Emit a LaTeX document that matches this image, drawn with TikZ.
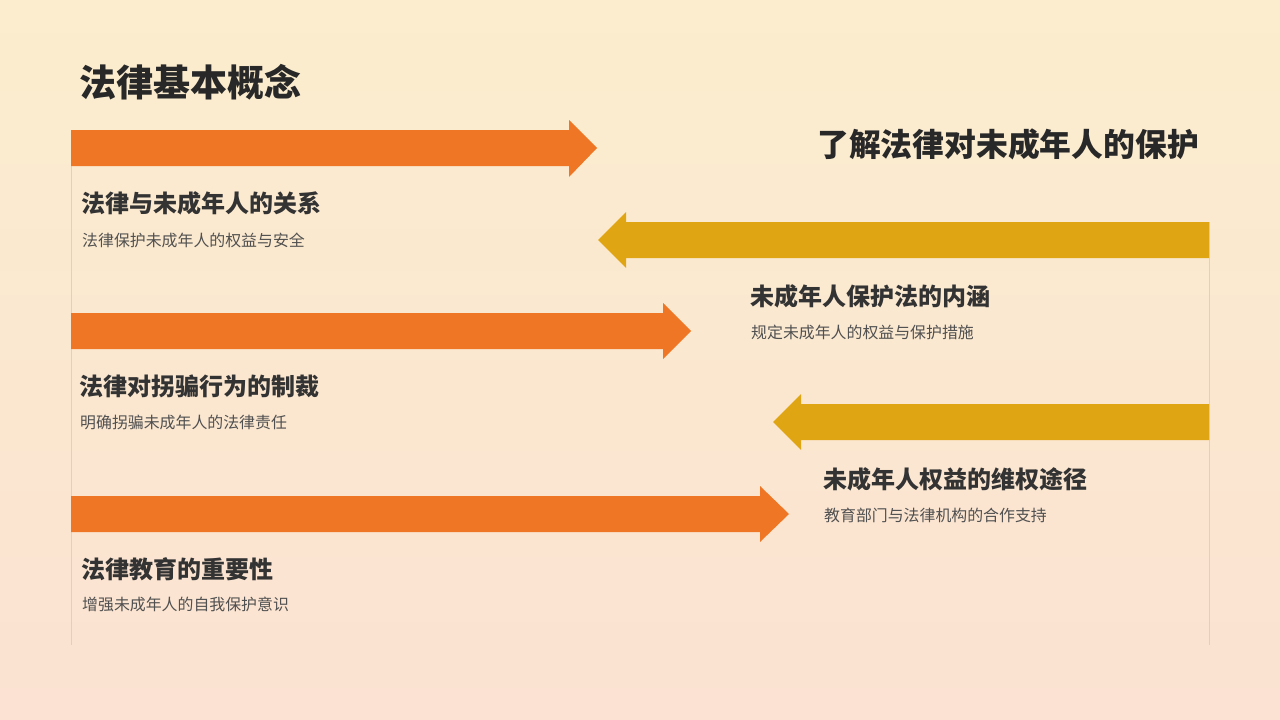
\documentclass[tikz,border=0pt]{standalone}
\usepackage{fontspec}
\setmainfont{Noto Sans CJK SC}
\begin{document}
\begin{tikzpicture}[x=1pt,y=-1pt,
  orangearrow/.style={fill={rgb,255:red,238;green,118;blue,36}},
  goldarrow/.style={fill={rgb,255:red,224;green,165;blue,18}},
  vline/.style={draw={rgb,255:red,222;green,208;blue,195},line width=1pt},
  head/.style={anchor=west,inner sep=0pt,font=\fontsize{24}{28}\selectfont\bfseries,text={rgb,255:red,51;green,51;blue,51}},
  sub/.style={anchor=west,inner sep=0pt,font=\fontsize{15.9}{18}\selectfont,text={rgb,255:red,80;green,80;blue,80}}]
\useasboundingbox (0,0) rectangle (1280,720);
\shade[top color={rgb,255:red,251;green,237;blue,206},bottom color={rgb,255:red,251;green,226;blue,210}] (0,0) rectangle (1280,720);
% vertical lines
\coordinate (lt) at (71,130); \coordinate (lb) at (71,645);
\coordinate (rt) at (1209,222); \coordinate (rb) at (1209,645);
\draw[vline] (lt) -- (lb);
\draw[vline] (rt) -- (rb);
% orange arrows
\path[orangearrow] (71,130) -- (569,130) -- (569,120) -- (597,148) -- (569,177) -- (569,166) -- (71,166) -- cycle;
\path[orangearrow] (71,313) -- (663,313) -- (663,303) -- (691,331) -- (663,359) -- (663,349) -- (71,349) -- cycle;
\path[orangearrow] (71,496) -- (760,496) -- (760,486) -- (789,514) -- (760,542) -- (760,532) -- (71,532) -- cycle;
% gold arrows
\path[goldarrow] (1209,222) -- (626,222) -- (626,212) -- (598,240) -- (626,268) -- (626,258) -- (1209,258) -- cycle;
\path[goldarrow] (1209,404) -- (801,404) -- (801,394) -- (773,422) -- (801,450) -- (801,440) -- (1209,440) -- cycle;
% titles
\node[anchor=west,inner sep=0pt,font=\fontsize{37}{42}\selectfont\bfseries,text={rgb,255:red,40;green,40;blue,40}] (title) at (79,82) {法律基本概念};
\node[anchor=east,inner sep=0pt,font=\fontsize{31.8}{36}\selectfont\bfseries,text={rgb,255:red,40;green,40;blue,40}] (rtitle) at (1199,144) {了解法律对未成年人的保护};
% items
\node[head] (h1) at (81,203) {法律与未成年人的关系};
\node[sub] (s1) at (82,240) {法律保护未成年人的权益与安全};
\node[head] (h2) at (750,296) {未成年人保护法的内涵};
\node[sub] (s2) at (751,332) {规定未成年人的权益与保护措施};
\node[head] (h3) at (79,386) {法律对拐骗行为的制裁};
\node[sub] (s3) at (80,422) {明确拐骗未成年人的法律责任};
\node[head] (h4) at (823,479) {未成年人权益的维权途径};
\node[sub] (s4) at (824,515) {教育部门与法律机构的合作支持};
\node[head] (h5) at (81,569) {法律教育的重要性};
\node[sub] (s5) at (82,604) {增强未成年人的自我保护意识};
\end{tikzpicture}
\end{document}
